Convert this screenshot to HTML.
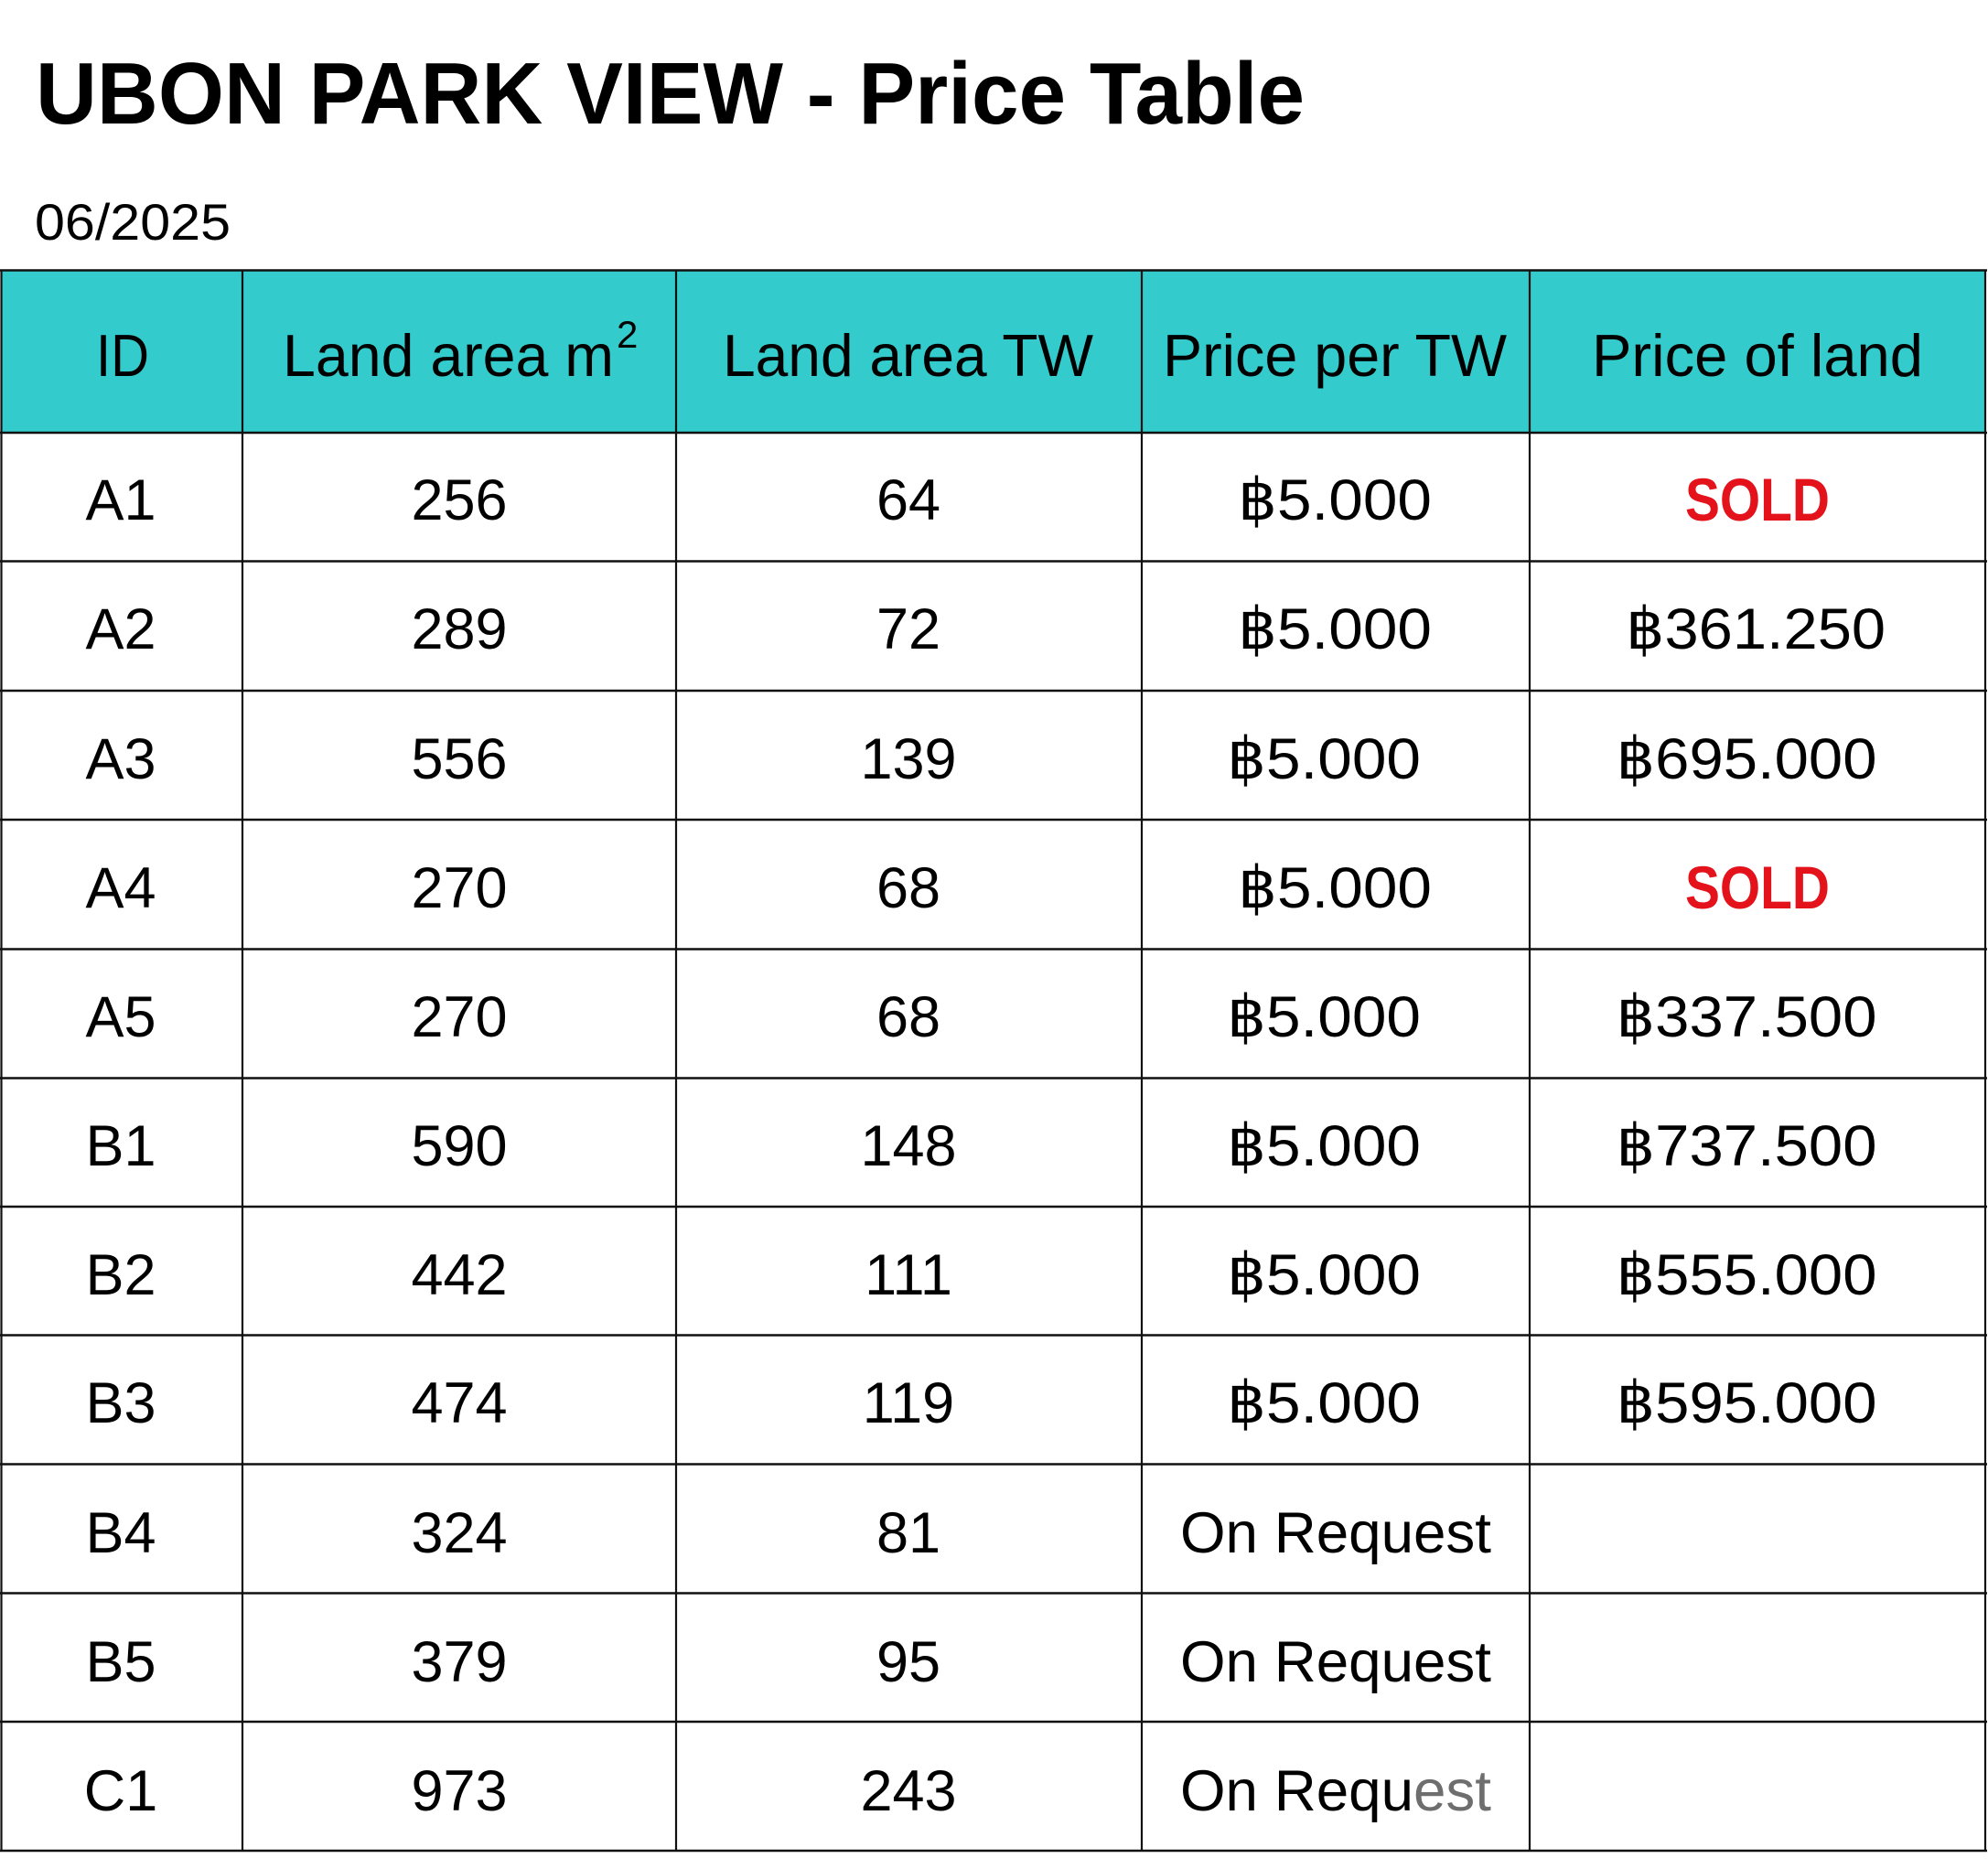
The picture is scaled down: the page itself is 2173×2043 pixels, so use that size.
<!DOCTYPE html>
<html>
<head>
<meta charset="utf-8">
<style>
  html, body { margin: 0; padding: 0; background: #ffffff; }
  body { width: 2173px; height: 2043px; overflow: hidden; }
  svg { display: block; }
  text { font-family: "Liberation Sans", "DejaVu Sans", sans-serif; fill: #000; }
</style>
</head>
<body>
<svg width="2173" height="2043" viewBox="0 0 2173 2043" xmlns="http://www.w3.org/2000/svg">
  <rect x="0" y="0" width="2173" height="2043" fill="#ffffff"/>

  <!-- Title -->
  <text x="39" y="135" font-size="96" font-weight="bold" textLength="1387" lengthAdjust="spacingAndGlyphs">UBON PARK VIEW - Price Table</text>
  <text x="38" y="262" font-size="56" textLength="214" lengthAdjust="spacingAndGlyphs">06/2025</text>

  <!-- Header background -->
  <rect x="1" y="295" width="2170" height="178" fill="#33cbcb"/>

  <!-- Header text -->
  <g font-size="65">
    <text x="105" y="411" textLength="58" lengthAdjust="spacingAndGlyphs">ID</text>
    <text x="309" y="411" textLength="362" lengthAdjust="spacingAndGlyphs">Land area m</text>
    <text x="674" y="380" font-size="42">2</text>
    <text x="790" y="411" textLength="405" lengthAdjust="spacingAndGlyphs">Land area TW</text>
    <text x="1271" y="411" textLength="376" lengthAdjust="spacingAndGlyphs">Price per TW</text>
    <text x="1740" y="411" textLength="362" lengthAdjust="spacingAndGlyphs">Price of land</text>
  </g>

  <!-- Grid lines -->
  <g stroke="#111" stroke-width="2.6">
    <line x1="0" y1="295.5" x2="2172" y2="295.5"/>
    <line x1="0" y1="473" x2="2172" y2="473"/>
    <line x1="0" y1="613.5" x2="2172" y2="613.5"/>
    <line x1="0" y1="755" x2="2172" y2="755"/>
    <line x1="0" y1="896" x2="2172" y2="896"/>
    <line x1="0" y1="1037.5" x2="2172" y2="1037.5"/>
    <line x1="0" y1="1178.5" x2="2172" y2="1178.5"/>
    <line x1="0" y1="1319" x2="2172" y2="1319"/>
    <line x1="0" y1="1459.5" x2="2172" y2="1459.5"/>
    <line x1="0" y1="1600.5" x2="2172" y2="1600.5"/>
    <line x1="0" y1="1741.5" x2="2172" y2="1741.5"/>
    <line x1="0" y1="1882" x2="2172" y2="1882"/>
    <line x1="0" y1="2023" x2="2172" y2="2023"/>
  </g>
  <g stroke="#111" stroke-width="2.2">
    <line x1="1.5" y1="295" x2="1.5" y2="2024"/>
    <line x1="265" y1="295" x2="265" y2="2024"/>
    <line x1="739" y1="295" x2="739" y2="2024"/>
    <line x1="1248" y1="295" x2="1248" y2="2024"/>
    <line x1="1672" y1="295" x2="1672" y2="2024"/>
    <line x1="2170" y1="295" x2="2170" y2="2024"/>
  </g>

  <!-- Body text -->
  <g font-size="63" text-anchor="middle">
    <!-- A1 -->
    <text x="132" y="568">A1</text>
    <text x="502" y="568">256</text>
    <text x="993" y="568">64</text>
    <text x="1459" y="568" textLength="212" lengthAdjust="spacingAndGlyphs">฿5.000</text>
    <text x="1921" y="569" font-size="66" font-weight="bold" style="fill:#e3121b" textLength="158" lengthAdjust="spacingAndGlyphs">SOLD</text>

    <!-- A2 -->
    <text x="132" y="709">A2</text>
    <text x="502" y="709">289</text>
    <text x="993" y="709">72</text>
    <text x="1459" y="709" textLength="212" lengthAdjust="spacingAndGlyphs">฿5.000</text>
    <text x="1919" y="709" textLength="284" lengthAdjust="spacingAndGlyphs">฿361.250</text>

    <!-- A3 -->
    <text x="132" y="851">A3</text>
    <text x="502" y="851">556</text>
    <text x="993" y="851">139</text>
    <text x="1447" y="851" textLength="212" lengthAdjust="spacingAndGlyphs">฿5.000</text>
    <text x="1909" y="851" textLength="285" lengthAdjust="spacingAndGlyphs">฿695.000</text>

    <!-- A4 -->
    <text x="132" y="992">A4</text>
    <text x="502" y="992">270</text>
    <text x="993" y="992">68</text>
    <text x="1459" y="992" textLength="212" lengthAdjust="spacingAndGlyphs">฿5.000</text>
    <text x="1921" y="993" font-size="66" font-weight="bold" style="fill:#e3121b" textLength="158" lengthAdjust="spacingAndGlyphs">SOLD</text>

    <!-- A5 -->
    <text x="132" y="1133">A5</text>
    <text x="502" y="1133">270</text>
    <text x="993" y="1133">68</text>
    <text x="1447" y="1133" textLength="212" lengthAdjust="spacingAndGlyphs">฿5.000</text>
    <text x="1909" y="1133" textLength="285" lengthAdjust="spacingAndGlyphs">฿337.500</text>

    <!-- B1 -->
    <text x="132" y="1274">B1</text>
    <text x="502" y="1274">590</text>
    <text x="993" y="1274">148</text>
    <text x="1447" y="1274" textLength="212" lengthAdjust="spacingAndGlyphs">฿5.000</text>
    <text x="1909" y="1274" textLength="285" lengthAdjust="spacingAndGlyphs">฿737.500</text>

    <!-- B2 -->
    <text x="132" y="1415">B2</text>
    <text x="502" y="1415">442</text>
    <text x="993" y="1415">111</text>
    <text x="1447" y="1415" textLength="212" lengthAdjust="spacingAndGlyphs">฿5.000</text>
    <text x="1909" y="1415" textLength="285" lengthAdjust="spacingAndGlyphs">฿555.000</text>

    <!-- B3 -->
    <text x="132" y="1555">B3</text>
    <text x="502" y="1555">474</text>
    <text x="993" y="1555">119</text>
    <text x="1447" y="1555" textLength="212" lengthAdjust="spacingAndGlyphs">฿5.000</text>
    <text x="1909" y="1555" textLength="285" lengthAdjust="spacingAndGlyphs">฿595.000</text>

    <!-- B4 -->
    <text x="132" y="1697">B4</text>
    <text x="502" y="1697">324</text>
    <text x="993" y="1697">81</text>
    <text x="1460" y="1697" textLength="340" lengthAdjust="spacingAndGlyphs">On Request</text>

    <!-- B5 -->
    <text x="132" y="1838">B5</text>
    <text x="502" y="1838">379</text>
    <text x="993" y="1838">95</text>
    <text x="1460" y="1838" textLength="340" lengthAdjust="spacingAndGlyphs">On Request</text>

    <!-- C1 -->
    <text x="132" y="1979">C1</text>
    <text x="502" y="1979">973</text>
    <text x="993" y="1979">243</text>
    <text x="1460" y="1979" textLength="340" lengthAdjust="spacingAndGlyphs">On Requ<tspan style="fill:#6e6e6e">est</tspan></text>
  </g>
</svg>
</body>
</html>
